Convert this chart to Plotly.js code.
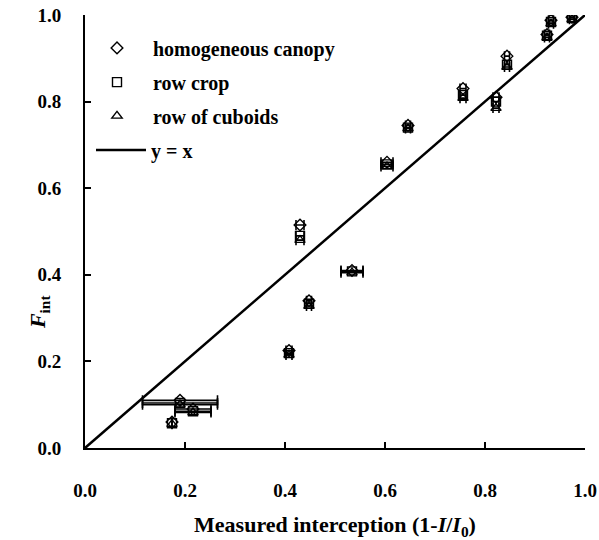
<!DOCTYPE html>
<html>
<head>
<meta charset="utf-8">
<script src="https://cdn.plot.ly/plotly-3.0.1.min.js"></script>
<style>html,body{margin:0;padding:0;background:#fff;}#chart{width:599px;height:540px;}</style>
</head>
<body>
<div id="chart"></div>
<script>
// Measured interception (x) per case
const measured = [0.174, 0.190, 0.216, 0.408, 0.430, 0.448, 0.534, 0.604, 0.646, 0.756, 0.822, 0.844, 0.924, 0.932, 0.974];
// Horizontal error (half width) of measured interception
const measuredErr = [0, 0.075, 0.036, 0.006, 0.008, 0.005, 0.022, 0.012, 0.005, 0.006, 0.006, 0.005, 0.005, 0.005, 0.005];
// Fint for the three canopy models
const homogeneous = [0.060, 0.110, 0.090, 0.225, 0.515, 0.340, 0.410, 0.660, 0.745, 0.830, 0.810, 0.905, 0.955, 0.988, 0.995];
const rowCrop     = [0.057, 0.104, 0.085, 0.219, 0.490, 0.333, 0.408, 0.655, 0.740, 0.815, 0.800, 0.885, 0.952, 0.984, 0.993];
const cuboids     = [0.055, 0.100, 0.082, 0.215, 0.480, 0.328, 0.405, 0.650, 0.738, 0.808, 0.785, 0.880, 0.948, 0.980, 0.990];
const oneToOne = [0, 1];

const FONT = "Liberation Serif, Times New Roman, serif";
const errX = {type: 'data', array: measuredErr, visible: true, color: '#000', thickness: 1.6, width: 5};

function series(name, y, symbol, legendId) {
  return {
    x: measured, y: y, name: name, type: 'scatter', mode: 'markers', legend: legendId,
    marker: {symbol: symbol, size: 9, color: '#000', line: {color: '#000', width: 1.4}},
    error_x: errX
  };
}

const traces = [
  series('homogeneous canopy', homogeneous, 'diamond-open', 'legend'),
  series('row crop', rowCrop, 'square-open', 'legend2'),
  series('row of cuboids', cuboids, 'triangle-up-open', 'legend3'),
  {x: oneToOne, y: oneToOne, name: 'y = x', type: 'scatter', mode: 'lines', legend: 'legend4',
   line: {color: '#000', width: 2.5}}
];

const legendFont = {family: FONT, size: 20, color: '#000', weight: 'bold'};
function leg(x, y, w) {
  return {x: x, y: y, xanchor: 'left', yanchor: 'middle', bgcolor: 'rgba(0,0,0,0)',
          font: legendFont, itemwidth: w};
}

const axisCommon = {
  range: [0, 1], dtick: 0.2, tickformat: '.1f',
  showgrid: false, zeroline: false, showline: true, linecolor: '#000', linewidth: 2,
  ticks: 'inside', ticklen: 6, tickwidth: 2, tickcolor: '#000',
  tickfont: {family: FONT, size: 19, color: '#000', weight: 'bold'}
};

const layout = {
  width: 599, height: 540,
  margin: {l: 85, r: 14, t: 15, b: 92},
  paper_bgcolor: '#fff', plot_bgcolor: '#fff',
  showlegend: true,
  legend: leg(-0.008, 0.924, 62),
  legend2: leg(-0.008, 0.845, 62),
  legend3: leg(-0.008, 0.767, 62),
  legend4: leg(0.012, 0.688, 50),
  xaxis: Object.assign({}, axisCommon, {
    ticklabelstandoff: 24,
    title: {text: 'Measured interception (1-<i>I</i>/<i>I</i><sub>0</sub>)', standoff: 18,
            font: {family: FONT, size: 22, color: '#000', weight: 'bold'}}
  }),
  yaxis: Object.assign({}, axisCommon, {
    ticklabelstandoff: 18
  }),
  annotations: [{
    text: '<i>F</i><sub>int</sub>', xref: 'paper', yref: 'paper', x: -0.125, y: 0.27,
    showarrow: false, textangle: -90,
    font: {family: FONT, size: 22, color: '#000', weight: 'bold'}
  }]
};

Plotly.newPlot('chart', traces, layout, {displayModeBar: false, staticPlot: true});
</script>
</body>
</html>
